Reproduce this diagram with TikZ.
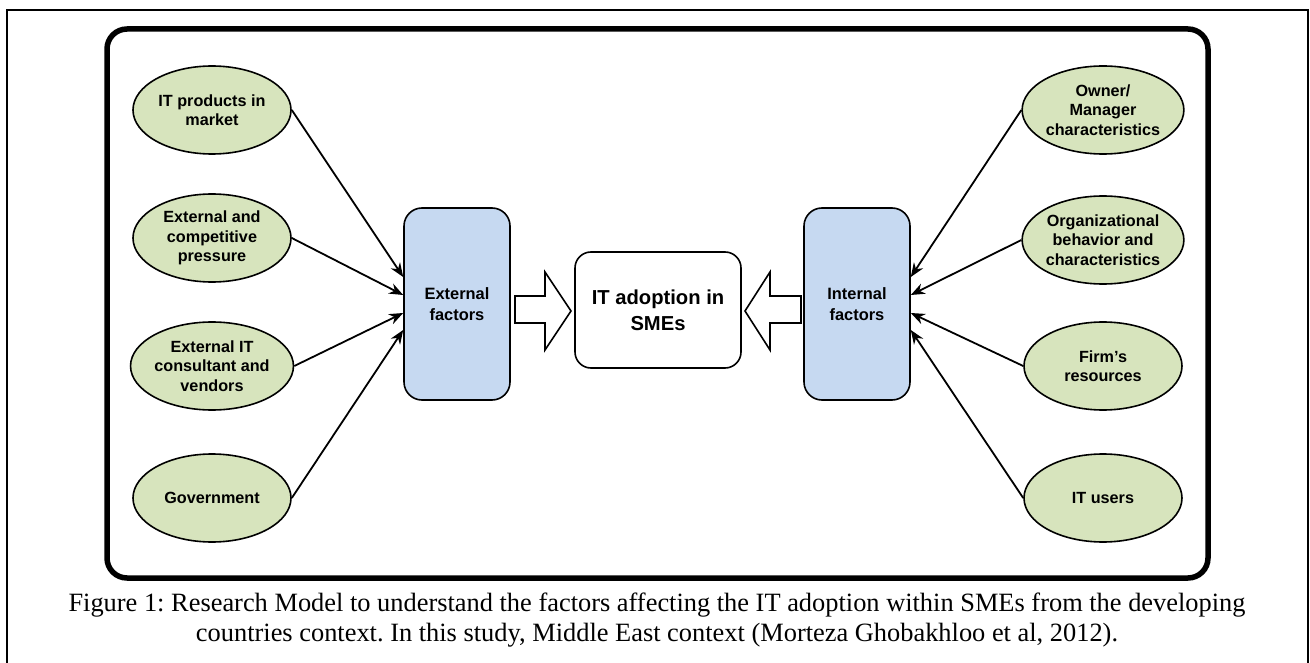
\documentclass[tikz,border=0pt]{standalone}
\usepackage{fontspec}
\setmainfont{Liberation Serif}
\setsansfont{Liberation Sans}
\usetikzlibrary{shapes.geometric,arrows.meta,calc}
\frenchspacing

\definecolor{factorgreen}{HTML}{D7E4BD}
\definecolor{groupblue}{HTML}{C6D9F1}

\tikzset{
	factor/.style={ellipse, draw=black, line width=1.6pt, fill=factorgreen,
		minimum width=158pt, minimum height=88pt, inner sep=0pt, align=center,
		font=\sffamily\bfseries\fontsize{16.2}{19.5}\selectfont},
	group/.style={rectangle, rounded corners=18pt, draw=black, line width=1.6pt,
		fill=groupblue, minimum width=106pt, minimum height=192pt, align=center,
		font=\sffamily\bfseries\fontsize{16.4}{21}\selectfont},
	link/.style={line width=1.8pt, -{Stealth[length=14pt,width=11pt]}},
	bigarrow/.style={draw=black, line width=1.6pt, fill=white, line join=miter},
}

\begin{document}
\begin{tikzpicture}[x=1pt, y=-1pt]
			%%%%% START %%%%%
			\useasboundingbox (0, 0) rectangle (1310, 663);
			\draw[line width=1.5pt] (7, 663) -- (7, 10) -- (1308, 10) -- (1308, 663);
			\draw[line width=5.5pt, rounded corners=20pt] (107, 29) rectangle (1208, 578);
			
			% external side
			\node[factor] (market) at (212, 110) {IT products in\\market};
			\node[factor] (pressure) at (212, 238) {External and\\competitive\\pressure};
			\node[factor] (vendors) at (212, 366) {External IT\\consultant and\\vendors};
			\node[factor] (gov) at (212, 498) {Government};
			\node[group] (ext) at (457, 304) {External\\factors};
			
			% internal side
			\node[factor] (owner) at (1103, 110) {Owner/\\Manager\\characteristics};
			\node[factor] (org) at (1103, 240) {Organizational\\behavior and\\characteristics};
			\node[factor] (res) at (1103, 366) {Firm's\\resources};
			\node[factor] (users) at (1103, 498) {IT users};
			\node[group] (int) at (857, 304) {Internal\\factors};
			
			% centre
			\node[rectangle, rounded corners=16pt, draw=black, line width=1.6pt,
				minimum width=166pt, minimum height=116pt, align=center,
				font=\sffamily\bfseries\fontsize{20.2}{26}\selectfont] (itsme) at (658, 310) {IT adoption in\\SMEs};
			
			\draw[link] (market.east) -- ([yshift=27pt]ext.west);
			\draw[link] (pressure.east) -- ([yshift=9pt]ext.west);
			\draw[link] (vendors.east) -- ([yshift=-9pt]ext.west);
			\draw[link] (gov.east) -- ([yshift=-26pt]ext.west);
			
			\draw[link] (owner.west) -- ([yshift=27pt]int.east);
			\draw[link] (org.west) -- ([yshift=9pt]int.east);
			\draw[link] (res.west) -- ([yshift=-9pt]int.east);
			\draw[link] (users.west) -- ([yshift=-26pt]int.east);
			
			\draw[bigarrow] (515, 296) -- (545, 296) -- (545, 272) -- (571, 311) -- (545, 350) -- (545, 323) -- (515, 323) -- cycle;
			\draw[bigarrow] (801, 296) -- (770, 296) -- (770, 272) -- (745, 311) -- (770, 350) -- (770, 323) -- (801, 323) -- cycle;
			
			\node[align=center, font=\fontsize{26.4}{30}\selectfont] (caption) at (657, 620)
				{Figure 1: Research Model to understand the factors affecting the IT adoption within SMEs from the developing\\
				countries context. In this study, Middle East context (Morteza Ghobakhloo et al, 2012).};
			%%%%% END %%%%%
\end{tikzpicture}
\end{document}
